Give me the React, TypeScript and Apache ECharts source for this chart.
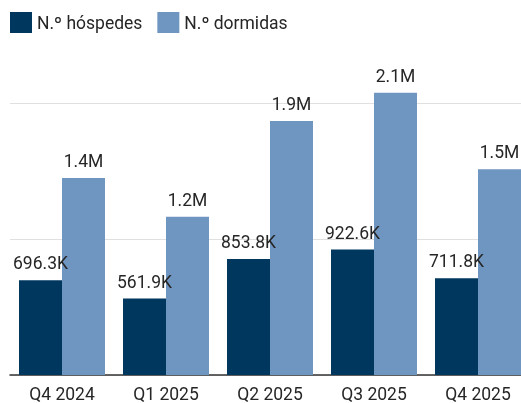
import React, { useEffect, useRef } from "react";
import * as echarts from "echarts";

const categories = ["Q4 2024", "Q1 2025", "Q2 2025", "Q3 2025", "Q4 2025"];
const hospedes = [696300, 561900, 853800, 922600, 711800];
const dormidas = [1448000, 1163000, 1868000, 2075000, 1514000];
const seriesNames = ["N.º hóspedes", "N.º dormidas"];

function fmt(v: number): string {
  if (v >= 1e6) return (v / 1e6).toFixed(1) + "M";
  if (v >= 1e3) return (v / 1e3).toFixed(1) + "K";
  return String(v);
}

export default function App() {
  const ref = useRef<HTMLDivElement>(null);
  useEffect(() => {
    document.body.style.margin = "0";
    document.body.style.overflow = "hidden";
    const chart = echarts.init(ref.current!, null, { renderer: "svg" });
    const labelStyle = {
      show: true,
      position: "top" as const,
      distance: 8,
      fontSize: 17.5,
      color: "#262626",
      fontFamily: "Roboto",
      formatter: (p: any) => fmt(p.value),
    };
    chart.setOption({
      animation: false,
      textStyle: { fontFamily: "Roboto" },
      legend: {
        left: 10,
        top: 12,
        padding: 0,
        icon: "rect",
        itemWidth: 22,
        itemHeight: 21,
        itemGap: 15,
        textStyle: { fontSize: 17.5, color: "#262626", fontFamily: "Roboto" },
        data: seriesNames,
      },
      grid: { left: 10, right: 0, top: 0, bottom: 26, containLabel: false },
      xAxis: {
        type: "category",
        data: categories,
        axisLine: { lineStyle: { color: "#333", width: 1.5 } },
        axisTick: { show: false },
        axisLabel: { fontSize: 17.5, color: "#262626", margin: 10, fontFamily: "Roboto" },
      },
      yAxis: {
        type: "value",
        min: 0,
        max: 2758000,
        interval: 1000000,
        axisLabel: { show: false },
        axisLine: { show: false },
        axisTick: { show: false },
        splitLine: { showMaxLine: false, lineStyle: { color: "#e0e0e0", width: 1 } },
      },
      series: [
        {
          name: seriesNames[0],
          type: "bar",
          data: hospedes,
          barWidth: 43,
          barGap: "0%",
          itemStyle: { color: "#00375f" },
          label: labelStyle,
        },
        {
          name: seriesNames[1],
          type: "bar",
          data: dormidas,
          barWidth: 43,
          barGap: "0%",
          itemStyle: { color: "#6f95c1" },
          label: labelStyle,
        },
      ],
    });
    return () => chart.dispose();
  }, []);
  return (
    <div
      ref={ref}
      style={{ position: "fixed", left: 0, top: 0, width: 530, height: 403 }}
    />
  );
}
